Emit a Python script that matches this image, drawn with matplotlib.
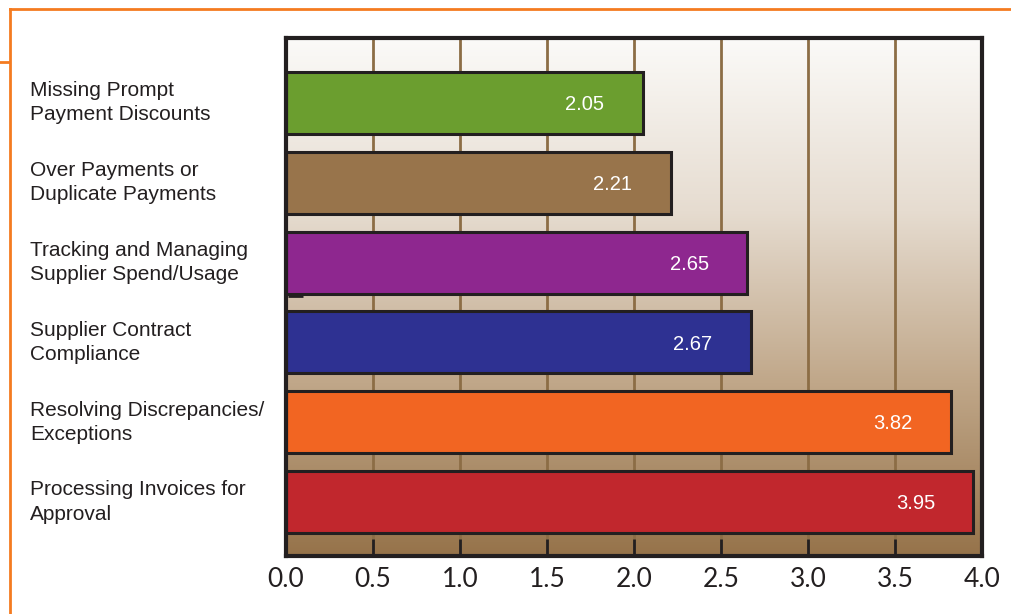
import numpy as np
import matplotlib.pyplot as plt
from matplotlib.colors import LinearSegmentedColormap
from matplotlib.lines import Line2D
from matplotlib.transforms import blended_transform_factory

categories = [
    "Missing Prompt\nPayment Discounts",
    "Over Payments or\nDuplicate Payments",
    "Tracking and Managing\nSupplier Spend/Usage",
    "Supplier Contract\nCompliance",
    "Resolving Discrepancies/\nExceptions",
    "Processing Invoices for\nApproval",
]
scores = [2.05, 2.21, 2.65, 2.67, 3.82, 3.95]
bar_colors = ["#6B9E2F", "#98744B", "#8E278F", "#2E3192", "#F26522", "#C1272D"]
x_ticks = [0.0, 0.5, 1.0, 1.5, 2.0, 2.5, 3.0, 3.5, 4.0]

W, H = 1011, 614
fig = plt.figure(figsize=(W / 100, H / 100), dpi=100)

# orange page frame
orange = "#F47B20"
fig.add_artist(Line2D([10 / W, 1], [1 - 9 / H, 1 - 9 / H], color=orange, lw=2))
fig.add_artist(Line2D([10 / W, 10 / W], [0, 1 - 9 / H], color=orange, lw=2))
fig.add_artist(Line2D([0, 9 / W], [1 - 62 / H, 1 - 62 / H], color=orange, lw=2))

left, right, top, bottom = 286, 982, 38, 556
ax = fig.add_axes([left / W, 1 - bottom / H, (right - left) / W, (bottom - top) / H])

y = np.arange(len(categories))
y_lo, y_hi = len(categories) - 1 + 0.675, -0.8125
ax.set_xlim(0, 4)
ax.set_ylim(y_lo, y_hi)

# background gradient, near white at top to brown at the bottom
bg = LinearSegmentedColormap.from_list("bg", ["#FBFAF8", "#E6DCD0", "#C0A789", "#96734A"])
grad = np.linspace(0, 1, 256).reshape(-1, 1)
ax.imshow(grad, cmap=bg, aspect="auto", extent=[0, 4, y_lo, y_hi], zorder=0)

for xt in x_ticks[1:-1]:
    ax.axvline(xt, color="#8C6D45", lw=2, zorder=1)

ax.barh(y, scores, height=0.775, color=bar_colors, edgecolor="#231F20", linewidth=2.2, zorder=3)

for yi, v in zip(y, scores):
    ax.text(v - 0.22, yi + 0.02, f"{v:.2f}", color="white", ha="right", va="center",
            fontsize=14.5, family="Liberation Sans", zorder=4)

# small stray tick on the left spine
ax.plot([0.01, 0.1], [2.42, 2.42], color="#231F20", lw=2, zorder=4, solid_capstyle="butt")

for s in ax.spines.values():
    s.set_color("#231F20")
    s.set_linewidth(3)
    s.set_zorder(5)

ax.set_xticks(x_ticks)
ax.set_xticklabels([f"{t:.1f}" for t in x_ticks], fontsize=19, family="Lato", color="#231F20")
ax.tick_params(axis="x", direction="in", length=12, width=2, color="#231F20", pad=8)
ax.set_yticks([])

label_tr = blended_transform_factory(fig.transFigure, ax.transData)
for yi, label in zip(y, categories):
    ax.text(30 / W, yi, label, transform=label_tr, ha="left", va="center", fontsize=15,
            family="Liberation Sans", color="#231F20", linespacing=1.35)

fig.savefig("out.png", dpi=100)
